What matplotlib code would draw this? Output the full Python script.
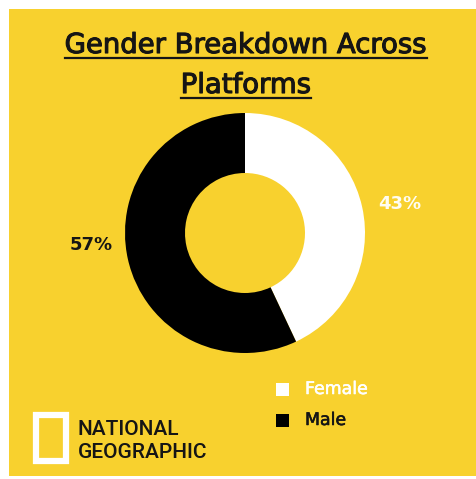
import matplotlib.pyplot as plt
import matplotlib.patheffects as pe
from matplotlib.patches import Rectangle
from matplotlib.lines import Line2D

# Gender split
labels = ['Female', 'Male']
shares = [43, 57]
colors = ['#FFFFFF', '#000000']

YELLOW = '#F8D12E'
INK = '#151515'
W, H = 477, 479

fig = plt.figure(figsize=(W / 100, H / 100), dpi=100)
fig.patch.set_facecolor('white')


def fx(x):
    return x / W


def fy(y):
    return 1 - y / H


# yellow panel, white strip on the top and left
fig.patches.append(Rectangle((fx(9), fy(476)), 1 - fx(9), fy(9) - fy(476),
                             transform=fig.transFigure, facecolor=YELLOW,
                             edgecolor='none', zorder=-5))

# donut
ax = fig.add_axes([fx(125), fy(353), 240 / W, 240 / H])
ax.set_facecolor('none')
wedges, _ = ax.pie(shares, colors=colors, startangle=90, counterclock=False,
                   radius=1.0, wedgeprops=dict(width=0.5, edgecolor='none'))
ax.set_xlim(-1, 1)
ax.set_ylim(-1, 1)
ax.set_aspect('equal')
ax.axis('off')

# percentage labels
fig.text(fx(400), fy(204), f'{shares[0]}%', color='#FFFDF2', fontsize=13,
         fontweight='bold', ha='center', va='center')
fig.text(fx(91), fy(245), f'{shares[1]}%', color=INK, fontsize=13,
         fontweight='bold', ha='center', va='center')

# title, underlined
thick = [pe.withStroke(linewidth=0.8, foreground=INK)]
title_lines = ['Gender Breakdown Across', 'Platforms']
title_texts = []
for line, y in zip(title_lines, [53, 93]):
    t = fig.text(fx(246), fy(y), line, fontsize=19.8, color=INK,
                 ha='center', va='baseline', path_effects=thick)
    title_texts.append(t)

fig.canvas.draw()
renderer = fig.canvas.get_renderer()
for t, y in zip(title_texts, [57.5, 97.5]):
    bb = t.get_window_extent(renderer)
    fig.add_artist(Line2D([bb.x0 / W, bb.x1 / W], [fy(y), fy(y)],
                          transform=fig.transFigure, color=INK, lw=1.6))

# legend
for i, (lab, col, y) in enumerate(zip(labels, colors, [389, 420])):
    fig.patches.append(Rectangle((fx(276), fy(y + 6.5)), 13 / W, 13 / H,
                                 transform=fig.transFigure, facecolor=col,
                                 edgecolor='none'))
    fig.text(fx(305), fy(y), lab, fontsize=12.5,
             color='white' if i == 0 else INK, ha='left', va='center',
             path_effects=[pe.withStroke(linewidth=0.4,
                                         foreground='white' if i == 0 else INK)])

# logo
fig.patches.append(Rectangle((fx(36), fy(460.5)), 29.5 / W, 46 / H,
                             transform=fig.transFigure, facecolor='none',
                             edgecolor='white', lw=4.5))
fig.text(fx(78), fy(435), 'NATIONAL', fontsize=15, family='Roboto',
         fontweight='medium', color=INK, ha='left', va='baseline')
fig.text(fx(78), fy(458), 'GEOGRAPHIC', fontsize=15, family='Roboto',
         fontweight='medium', color=INK, ha='left', va='baseline')

fig.savefig('out.png', dpi=100, facecolor=fig.get_facecolor())
